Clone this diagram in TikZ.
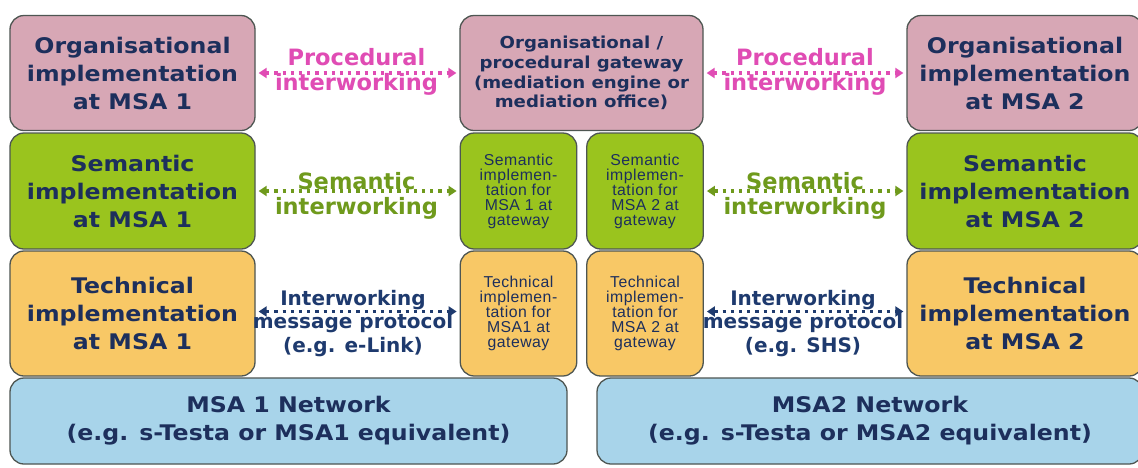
\documentclass[tikz,border=0pt]{standalone}
\usepackage{fontspec}
\usetikzlibrary{arrows.meta}
\newfontfamily\boxfont{DejaVu Sans}[FakeStretch=1.1]
\newfontfamily\labelfont{DejaVu Sans}
\newfontfamily\smallfont{Liberation Sans}[LetterSpace=3]
\definecolor{orgfill}{HTML}{D7A7B5}
\definecolor{semfill}{HTML}{9AC41E}
\definecolor{techfill}{HTML}{F8C866}
\definecolor{netfill}{HTML}{A8D4EA}
\definecolor{boxline}{HTML}{4E5652}
\definecolor{navy}{HTML}{1D2F5C}
\definecolor{procpink}{HTML}{E04CB4}
\definecolor{semgreen}{HTML}{6F9A1C}
\definecolor{technavy}{HTML}{1E3A6E}
\begin{document}
\begin{tikzpicture}[x=1pt,y=-1pt,
  layer/.style={draw=boxline, line width=1.3pt, rounded corners=14pt,
    inner sep=0pt, align=center, text=navy},
  bigbox/.style={layer, font=\boxfont\bfseries\fontsize{21.5}{28}\selectfont},
  gatebox/.style={layer, font=\boxfont\bfseries\fontsize{16.5}{19.8}\selectfont},
  smallbox/.style={layer, font=\smallfont\fontsize{15.8}{15}\selectfont},
  orgrow/.style={fill=orgfill, minimum height=115pt},
  semrow/.style={fill=semfill, minimum height=116pt},
  techrow/.style={fill=techfill, minimum height=125pt},
  netrow/.style={fill=netfill, minimum height=86pt},
  wide/.style={minimum width=245pt},
  narrow/.style={minimum width=116.5pt},
  linklabel/.style={inner sep=0pt, align=center,
    font=\labelfont\bfseries\fontsize{22.5}{25}\selectfont},
  techlabel/.style={inner sep=0pt, align=center, text=technavy,
    font=\labelfont\bfseries\fontsize{20}{23.5}\selectfont},
  link/.style={line width=3.2pt, dash pattern=on 3.2pt off 5pt,
    shorten <=3pt, shorten >=3pt,
    {Triangle[length=8pt,width=10pt]}-{Triangle[length=8pt,width=10pt]}},
]
\useasboundingbox (0,0) rectangle (1138,467);
\clip (0,0) rectangle (1138,467);
\fill[white] (0,0) rectangle (1138,467);

% MSA 1 stack
\node[bigbox, orgrow, wide] (orgA) at (132.5,73)
  {Organisational\\implementation\\at MSA 1};
\node[bigbox, semrow, wide] (semA) at (132.5,191)
  {Semantic\\implementation\\at MSA 1};
\node[bigbox, techrow, wide] (techA) at (132.5,313.5)
  {Technical\\implementation\\at MSA 1};
\node[bigbox, netrow, minimum width=557pt] (netA) at (288.5,421)
  {MSA 1 Network\\(e.g. s-Testa or MSA1 equivalent)};

% gateway stack
\node[gatebox, orgrow, minimum width=243pt] (gw) at (581.5,73)
  {Organisational /\\procedural gateway\\(mediation engine or\\mediation office)};
\node[smallbox, semrow, narrow] (semG1) at (518.5,191)
  {Semantic\\implemen-\\tation for\\MSA 1 at\\gateway};
\node[smallbox, semrow, narrow] (semG2) at (645,191)
  {Semantic\\implemen-\\tation for\\MSA 2 at\\gateway};
\node[smallbox, techrow, narrow] (techG1) at (518.5,313.5)
  {Technical\\implemen-\\tation for\\MSA1 at\\gateway};
\node[smallbox, techrow, narrow] (techG2) at (645,313.5)
  {Technical\\implemen-\\tation for\\MSA 2 at\\gateway};

% MSA 2 stack
\node[bigbox, orgrow, minimum width=236pt] (orgB) at (1025,73)
  {Organisational\\implementation\\at MSA 2};
\node[bigbox, semrow, minimum width=236pt] (semB) at (1025,191)
  {Semantic\\implementation\\at MSA 2};
\node[bigbox, techrow, minimum width=236pt] (techB) at (1025,313.5)
  {Technical\\implementation\\at MSA 2};
\node[bigbox, netrow, minimum width=546pt] (netB) at (870,421)
  {MSA2 Network\\(e.g. s-Testa or MSA2 equivalent)};

% interworking labels
\node[linklabel, text=procpink] (procL) at (356.5,72) {Procedural\\interworking};
\node[linklabel, text=procpink] (procR) at (805,72) {Procedural\\interworking};
\node[linklabel, text=semgreen] (semL) at (356.5,196) {Semantic\\interworking};
\node[linklabel, text=semgreen] (semR) at (805,196) {Semantic\\interworking};
\node[techlabel] (techL) at (353,323.5) {Interworking\\message protocol\\(e.g. e-Link)};
\node[techlabel] (techR) at (803,323.5) {Interworking\\message protocol\\(e.g. SHS)};

% interworking connectors
\draw[link, procpink] (orgA.east) -- (gw.west);
\draw[link, procpink] (gw.east) -- (orgB.west);
\draw[link, semgreen] (semA.east) -- (semG1.west);
\draw[link, semgreen] (semG2.east) -- (semB.west);
\draw[link, technavy] ([yshift=2pt]techA.east) -- ([yshift=2pt]techG1.west);
\draw[link, technavy] ([yshift=2pt]techG2.east) -- ([yshift=2pt]techB.west);
\end{tikzpicture}
\end{document}
